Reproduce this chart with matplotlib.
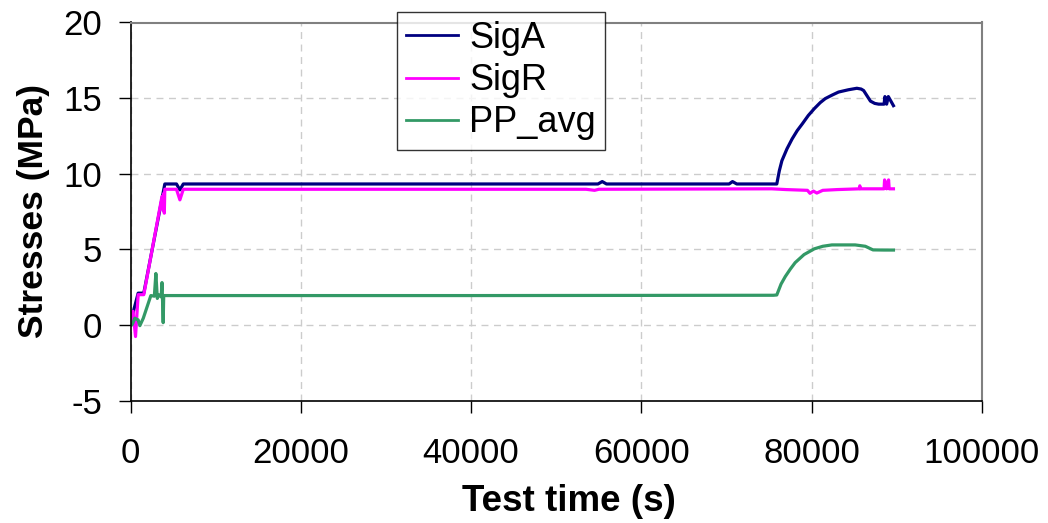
import numpy as np
import matplotlib
matplotlib.use('Agg')
import matplotlib.pyplot as plt

plt.rcParams['font.family'] = ['Liberation Sans', 'DejaVu Sans']
plt.rcParams['axes.unicode_minus'] = False

# test data (time in s, stresses in MPa)
t_siga = [0, 300, 900, 1560, 4030, 5400, 5800, 6200, 20000, 54900, 55400, 55900,
          70300, 70700, 71200, 75900, 76200, 76500, 77100, 77700, 78300, 78900,
          79600, 80300, 81000, 81600, 82400, 83150, 84300, 85300, 85800, 86100,
          86500, 86900, 87400, 87860, 88500, 88600, 88800, 89000, 89600]
siga = [0.0, 0.8, 2.1, 2.1, 9.32, 9.32, 8.93, 9.32, 9.32, 9.32, 9.48, 9.32,
        9.32, 9.48, 9.32, 9.32, 10.2, 10.86, 11.65, 12.3, 12.85, 13.3,
        13.85, 14.3, 14.7, 14.97, 15.2, 15.4, 15.55, 15.65, 15.6, 15.5,
        15.15, 14.8, 14.65, 14.6, 14.6, 15.1, 14.6, 15.1, 14.5]

t_sigr = [0, 300, 590, 900, 1560, 3700, 3800, 3900, 3970, 4030, 5400, 5800, 6200,
          20000, 53500, 54500, 55000, 75300, 77000, 79500, 79800, 80200, 80600,
          81300, 83000, 85600, 85650, 85700, 88500, 88560, 88800, 89030, 89100, 89600]
sigr = [0.0, 0.9, -0.77, 2.0, 2.0, 8.5, 7.6, 8.7, 7.39, 8.97, 8.97, 8.27, 8.97,
        8.97, 8.97, 8.9, 8.97, 9.0, 8.95, 8.9, 8.7, 8.85, 8.72,
        8.9, 8.95, 9.0, 9.2, 9.0, 9.0, 9.59, 9.0, 9.59, 9.0, 9.0]

t_pp = [0, 180, 510, 900, 1100, 1500, 2390, 2800, 2980, 3150, 3300, 3600, 3700,
        3840, 3900, 4200, 40000, 75500, 75900, 76400, 76900, 77500, 78060, 79100,
        80300, 81300, 82370, 85100, 86300, 87200, 88500, 89600]
pp = [0.0, 0.0, 0.44, 0.33, -0.05, 0.44, 1.94, 1.9, 3.4, 1.75, 2.0, 1.85, 2.8,
      0.15, 1.94, 1.94, 1.94, 1.96, 1.98, 2.7, 3.2, 3.7, 4.12, 4.65,
      5.03, 5.2, 5.29, 5.29, 5.2, 4.96, 4.95, 4.95]

xticks = [0, 20000, 40000, 60000, 80000, 100000]
yticks = [-5, 0, 5, 10, 15, 20]

fig = plt.figure(figsize=(10.48, 5.23), dpi=100)
ax = fig.add_axes([130.5/1048, 1-400.5/523, 851.5/1048, 378/523])

ax.plot(t_siga, siga, color='#000080', lw=2.3, label='SigA')
ax.plot(t_sigr, sigr, color='#ff00ff', lw=2.3, label='SigR')
ax.plot(t_pp, pp, color='#339966', lw=2.3, label='PP_avg')

ax.set_xlim(0, 100000)
ax.set_ylim(-5, 20)
ax.set_xticks(xticks)
ax.set_yticks(yticks)
ax.grid(True, color='#cccccc', linestyle=(0, (5, 4)), lw=1)
ax.set_axisbelow(True)

for s in ['top', 'right']:
    ax.spines[s].set_color('#808080')
    ax.spines[s].set_linewidth(1.5)
for s in ['left', 'bottom']:
    ax.spines[s].set_color('black')
    ax.spines[s].set_linewidth(1.2)

ax.tick_params(axis='both', direction='out', length=8.5, width=1, labelsize=25)
ax.tick_params(axis='y', pad=12)
ax.tick_params(axis='x', pad=18)

ax.set_xlabel('Test time (s)', fontsize=26.5, fontweight='bold')
ax.set_ylabel('Stresses (MPa)', fontsize=25.5, fontweight='bold')
ax.xaxis.set_label_coords(0.515, -0.222)
ax.yaxis.set_label_coords(-0.0945, 0.5)

leg = ax.legend(loc='upper left', bbox_to_anchor=(397/1048, 1-12/523),
                bbox_transform=fig.transFigure, borderaxespad=0, fontsize=26,
                frameon=True, fancybox=False, handlelength=1.45, handletextpad=0.3,
                labelspacing=0.2, borderpad=0.25)
leg.get_frame().set_edgecolor('black')
leg.get_frame().set_linewidth(1)
for line in leg.get_lines():
    line.set_linewidth(2)

fig.savefig('out.png', dpi=100)
